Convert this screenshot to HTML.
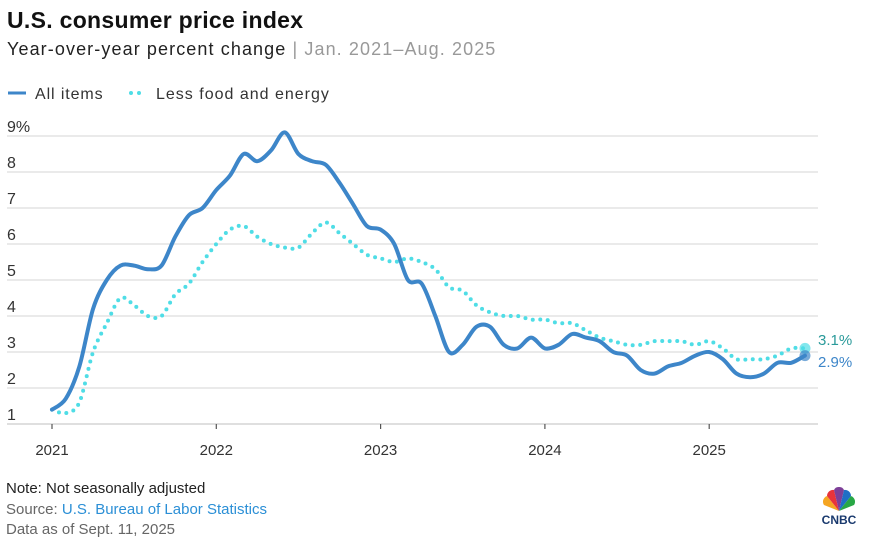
<!DOCTYPE html>
<html><head><meta charset="utf-8"><style>
body{margin:0;background:#fff;width:876px;height:540px;overflow:hidden;font-family:"Liberation Sans",sans-serif}
svg{position:absolute;left:0;top:0}
</style></head><body>
<svg width="876" height="540" viewBox="0 0 876 540" xmlns="http://www.w3.org/2000/svg" font-family="Liberation Sans, sans-serif">
<text x="7" y="28" font-size="23" font-weight="bold" fill="#111" letter-spacing="0.3">U.S. consumer price index</text>
<text x="7" y="55" font-size="18" fill="#222" letter-spacing="1.1">Year-over-year percent change <tspan fill="#999">| Jan. 2021–Aug. 2025</tspan></text>
<line x1="8" y1="93" x2="26" y2="93" stroke="#3d86c9" stroke-width="3"/>
<text x="35" y="99" font-size="16" fill="#333" letter-spacing="0.9">All items</text>
<circle cx="131" cy="93" r="2" fill="#4fdde6"/><circle cx="139" cy="93" r="2" fill="#4fdde6"/>
<text x="156" y="99" font-size="16" fill="#333" letter-spacing="1">Less food and energy</text>
<g id="grid" stroke="#dedede" stroke-width="1.2"></g>
<g id="ylab" font-size="16" fill="#333"></g>
<g id="xlab" font-size="15" fill="#333" text-anchor="middle"></g>
<path id="core" fill="none" stroke="#4fdde6" stroke-width="4" stroke-linecap="round" stroke-dasharray="0 7.5"/>
<path id="all" fill="none" stroke="#3d86c9" stroke-width="4" stroke-linejoin="round" stroke-linecap="round"/>
<circle cx="805" cy="348.4" r="5.5" fill="#4fdde6" opacity="0.7"/>
<circle cx="805" cy="355.6" r="5.5" fill="#3d86c9" opacity="0.7"/>
<text x="818" y="345" font-size="15" fill="#2a9a9a">3.1%</text>
<text x="818" y="367" font-size="15" fill="#3d86c9">2.9%</text>
<text x="6" y="493" font-size="15" fill="#222">Note: Not seasonally adjusted</text>
<text x="6" y="514" font-size="15" fill="#666">Source: <tspan fill="#2b8fd6">U.S. Bureau of Labor Statistics</tspan></text>
<text x="6" y="534" font-size="15" fill="#666">Data as of Sept. 11, 2025</text>
<g transform="translate(839,511)">
<path d="M0,0 L-15,-6 A6,6 0 0 1 -12,-15 Z" fill="#f5a623"/>
<path d="M0,0 L-12,-15 A6,6 0 0 1 -5,-21 Z" fill="#e8343a"/>
<path d="M0,0 L-5,-21 A5,5 0 0 1 0,-24 A5,5 0 0 1 5,-21 Z" fill="#7d3f98"/>
<path d="M0,0 L5,-21 A6,6 0 0 1 12,-15 Z" fill="#1f6fc5"/>
<path d="M0,0 L12,-15 A6,6 0 0 1 15,-6 Z" fill="#28a745"/>
<text x="0" y="13" font-size="12" font-weight="bold" text-anchor="middle" fill="#1a3a6e">CNBC</text>
</g>
</svg>
<script>
var ns="http://www.w3.org/2000/svg";
function Y(v){return 136+(9-v)*36}
function X(i){return 52+i*13.69}
var g=document.getElementById('grid'),yl=document.getElementById('ylab'),xl=document.getElementById('xlab');
for(var v=1;v<=9;v++){var l=document.createElementNS(ns,'line');l.setAttribute('x1',7);l.setAttribute('x2',818);l.setAttribute('y1',Y(v));l.setAttribute('y2',Y(v));if(v==1){l.setAttribute('stroke','#ccc')}g.appendChild(l);
var t=document.createElementNS(ns,'text');t.setAttribute('x',7);t.setAttribute('y',Y(v)-4);t.textContent=v==9?'9%':v;yl.appendChild(t);}
for(var k=0;k<5;k++){var x=52+k*164.3;var l=document.createElementNS(ns,'line');l.setAttribute('x1',x);l.setAttribute('x2',x);l.setAttribute('y1',424);l.setAttribute('y2',429);l.setAttribute('stroke','#555');g.appendChild(l);
var t=document.createElementNS(ns,'text');t.setAttribute('x',x);t.setAttribute('y',455);t.textContent=2021+k;xl.appendChild(t);}
var all=[1.4,1.7,2.6,4.2,5.0,5.4,5.4,5.3,5.4,6.2,6.8,7.0,7.5,7.9,8.5,8.3,8.6,9.1,8.5,8.3,8.2,7.7,7.1,6.5,6.4,6.0,5.0,4.9,4.0,3.0,3.2,3.7,3.7,3.2,3.1,3.4,3.1,3.2,3.5,3.4,3.3,3.0,2.9,2.5,2.4,2.6,2.7,2.9,3.0,2.8,2.4,2.3,2.4,2.7,2.7,2.9];
var core=[1.4,1.3,1.6,3.0,3.8,4.5,4.3,4.0,4.0,4.6,4.9,5.5,6.0,6.4,6.5,6.2,6.0,5.9,5.9,6.3,6.6,6.3,6.0,5.7,5.6,5.5,5.6,5.5,5.3,4.8,4.7,4.3,4.1,4.0,4.0,3.9,3.9,3.8,3.8,3.6,3.4,3.3,3.2,3.2,3.3,3.3,3.3,3.2,3.3,3.1,2.8,2.8,2.8,2.9,3.1,3.1];
function path(d){var p=d.map(function(v,i){return [X(i),Y(v)]});var s='M'+p[0][0]+','+p[0][1];
for(var i=0;i<p.length-1;i++){var p0=p[Math.max(0,i-1)],p1=p[i],p2=p[i+1],p3=p[Math.min(p.length-1,i+2)];var t=0.16;
s+=' C'+(p1[0]+(p2[0]-p0[0])*t)+','+(p1[1]+(p2[1]-p0[1])*t)+' '+(p2[0]-(p3[0]-p1[0])*t)+','+(p2[1]-(p3[1]-p1[1])*t)+' '+p2[0]+','+p2[1];}return s;}
document.getElementById('all').setAttribute('d',path(all));
document.getElementById('core').setAttribute('d',path(core));
</script>
</body></html>
